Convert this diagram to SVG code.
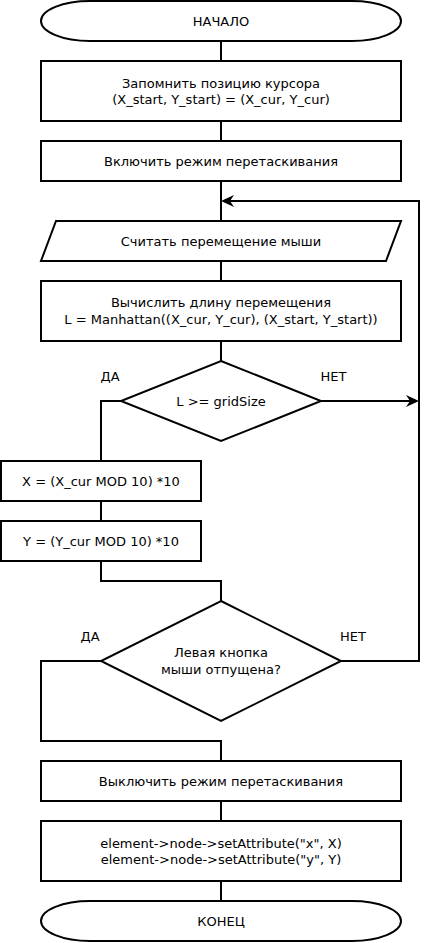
<svg xmlns="http://www.w3.org/2000/svg" width="425" height="943" viewBox="0 0 425 943">
<style>
.s{fill:#fff;stroke:#000;stroke-width:2}
.c{fill:none;stroke:#000;stroke-width:2}
.a{fill:#000;stroke:none}
text{font-family:"DejaVu Sans","Liberation Sans",sans-serif;font-size:13px;text-anchor:middle;fill:#000}
</style>
<rect width="425" height="943" fill="#fff"/>
<g id="connectors">
<path class="c" d="M221,41V61"/>
<path class="c" d="M221,121V141"/>
<path class="c" d="M221,181V221"/>
<path class="c" d="M221,261V281"/>
<path class="c" d="M221,341V361"/>
<path class="c" d="M121,401H101V461"/>
<path class="c" d="M321,401H410"/>
<path class="a" d="M419,401L406,395L410,401L406,407Z"/>
<path class="c" d="M101,501V521"/>
<path class="c" d="M101,561V581H221V601"/>
<path class="c" d="M341,661H419V201H230"/>
<path class="a" d="M221,201L234,195L230,201L234,207Z"/>
<path class="c" d="M101,661H41V741H221V761"/>
<path class="c" d="M221,801V821"/>
<path class="c" d="M221,881V901"/>
<text x="110" y="381">ДА</text>
<text x="333.5" y="381">НЕТ</text>
<text x="90" y="641">ДА</text>
<text x="353" y="641">НЕТ</text>
</g>
<g id="start">
<path class="s" d="M90,1H352A49,20 0 0 1 352,41H90A49,20 0 0 1 90,1Z"/>
<text x="221" y="25.5">НАЧАЛО</text>
</g>
<g id="save">
<rect class="s" x="41" y="61" width="360" height="60"/>
<text x="221" y="87.5">Запомнить позицию курсора</text>
<text x="221" y="103.5">(X_start, Y_start) = (X_cur, Y_cur)</text>
</g>
<g id="dragon">
<rect class="s" x="41" y="141" width="360" height="40"/>
<text x="221" y="165.5">Включить режим перетаскивания</text>
</g>
<g id="read">
<path class="s" d="M56,221H401L386,261H41Z"/>
<text x="221" y="245.5">Считать перемещение мыши</text>
</g>
<g id="calc">
<rect class="s" x="41" y="281" width="360" height="60"/>
<text x="221" y="307">Вычислить длину перемещения</text>
<text x="221" y="323.5">L = Manhattan((X_cur, Y_cur), (X_start, Y_start))</text>
</g>
<g id="cond1">
<path class="s" d="M221,361L321,401L221,441L121,401Z"/>
<text x="221" y="405.5">L &gt;= gridSize</text>
</g>
<g id="setx">
<rect class="s" x="1" y="461" width="200" height="40"/>
<text x="101" y="485.5">X = (X_cur MOD 10) *10</text>
</g>
<g id="sety">
<rect class="s" x="1" y="521" width="200" height="40"/>
<text x="101" y="545.5">Y = (Y_cur MOD 10) *10</text>
</g>
<g id="cond2">
<path class="s" d="M221,601L341,661L221,721L101,661Z"/>
<text x="221" y="656.5">Левая кнопка</text>
<text x="221" y="674">мыши отпущена?</text>
</g>
<g id="dragoff">
<rect class="s" x="41" y="761" width="360" height="40"/>
<text x="221" y="785.5">Выключить режим перетаскивания</text>
</g>
<g id="setattr">
<rect class="s" x="41" y="821" width="360" height="60"/>
<text x="221" y="847.5">element-&gt;node-&gt;setAttribute("x", X)</text>
<text x="221" y="863.5">element-&gt;node-&gt;setAttribute("y", Y)</text>
</g>
<g id="end">
<path class="s" d="M90,901H352A49,20 0 0 1 352,941H90A49,20 0 0 1 90,901Z"/>
<text x="221" y="925.5">КОНЕЦ</text>
</g>
</svg>
